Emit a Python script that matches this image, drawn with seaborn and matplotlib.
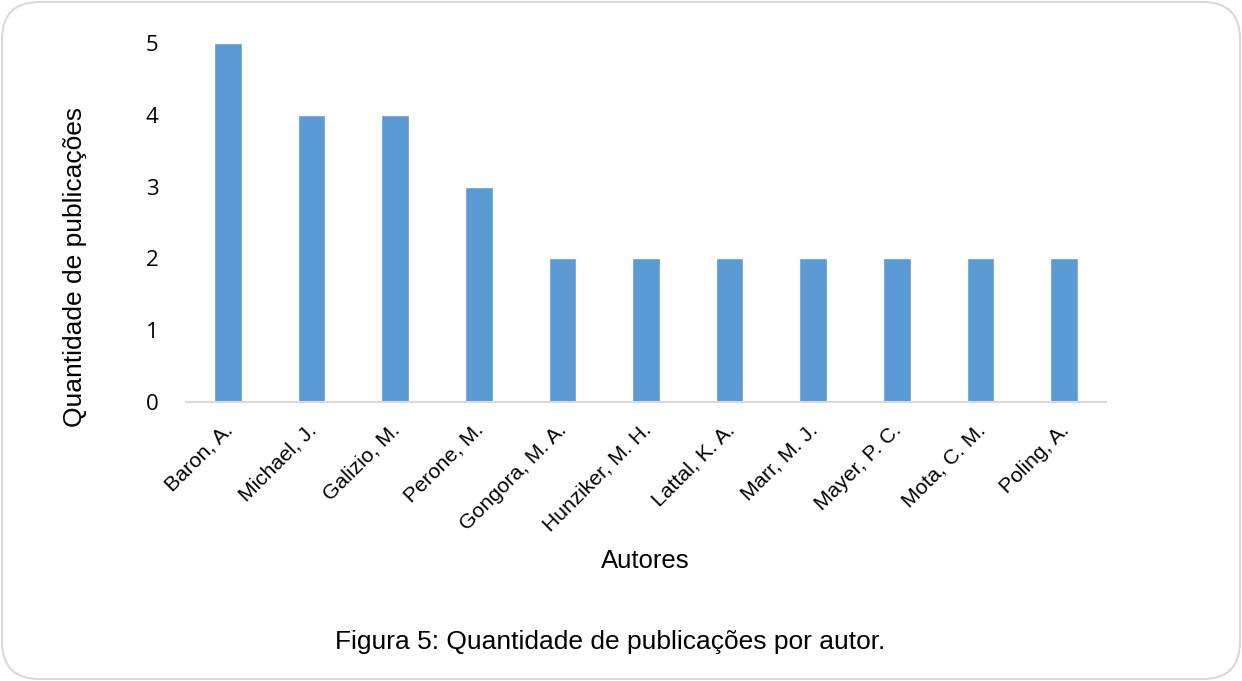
import matplotlib
matplotlib.use('Agg')
import matplotlib.pyplot as plt
import matplotlib.transforms as mtransforms
from matplotlib.patches import FancyBboxPatch
import pandas as pd
import seaborn as sns

# Dados
autores = ['Baron, A.', 'Michael, J.', 'Galizio, M.', 'Perone, M.', 'Gongora, M. A.',
           'Hunziker, M. H.', 'Lattal, K. A.', 'Marr, M. J.', 'Mayer, P. C.',
           'Mota, C. M.', 'Poling, A.']
publicacoes = [5, 4, 4, 3, 2, 2, 2, 2, 2, 2, 2]
y_ticks = [0, 1, 2, 3, 4, 5]

df = pd.DataFrame({'Autor': autores, 'Publicacoes': publicacoes})

sns.set_style('white')
plt.rcParams['font.family'] = ['Liberation Sans', 'DejaVu Sans']
plt.rcParams['text.color'] = 'black'
plt.rcParams['axes.labelcolor'] = 'black'
plt.rcParams['xtick.color'] = 'black'
plt.rcParams['ytick.color'] = 'black'

fig = plt.figure(figsize=(12.42, 6.81), dpi=100)
W, H = 1242, 681
ax = fig.add_axes([186 / W, 1 - 402 / H, (1106 - 186) / W, (402 - 43) / H])

sns.barplot(data=df, x='Autor', y='Publicacoes', color='#5B9BD5',
            saturation=1, width=0.33, ax=ax)

ax.set_ylim(0, 5)
ax.set_xlim(-0.5, len(autores) - 0.5)
ax.set_yticks(y_ticks)
ax.set_yticklabels([str(t) for t in y_ticks], fontsize=16, family='Open Sans')
ax.tick_params(axis='y', length=0, pad=20)
ax.tick_params(axis='x', length=0, pad=13)
ax.set_xticks(range(len(autores)))
ax.set_xticklabels(autores, rotation=45, ha='right', rotation_mode='anchor', fontsize=15.2)

# leve deslocamento dos rótulos do eixo x para a esquerda
desloc = mtransforms.ScaledTranslation(-5 / 100, 0, fig.dpi_scale_trans)
for lbl in ax.get_xticklabels():
    lbl.set_transform(lbl.get_transform() + desloc)

for s in ['top', 'right', 'left']:
    ax.spines[s].set_visible(False)
ax.spines['bottom'].set_color('#d9d9d9')
ax.spines['bottom'].set_linewidth(1.5)

ax.set_xlabel('Autores', fontsize=18.5)
ax.set_ylabel('Quantidade de publicações', fontsize=19)
ax.xaxis.set_label_coords((645 - 186) / (1106 - 186), -(561 - 402) / (402 - 43))
ax.yaxis.set_label_coords(-(186 - 75) / (1106 - 186), (402 - 267) / (402 - 43))
ax.yaxis.label.set_verticalalignment('center')
ax.xaxis.label.set_verticalalignment('center')

fig.text(610 / W, 1 - 642 / H, 'Figura 5: Quantidade de publicações por autor.',
         ha='center', va='center', fontsize=19)

# Moldura arredondada
borda = FancyBboxPatch((2 / W, 2 / H), 1 - 4 / W, 1 - 4 / H,
                       boxstyle='round,pad=0,rounding_size=0.03',
                       transform=fig.transFigure, fill=False,
                       edgecolor='#d9d9d9', linewidth=1.5,
                       mutation_aspect=W / H)
fig.patches.append(borda)

fig.savefig('out.png', dpi=100)
